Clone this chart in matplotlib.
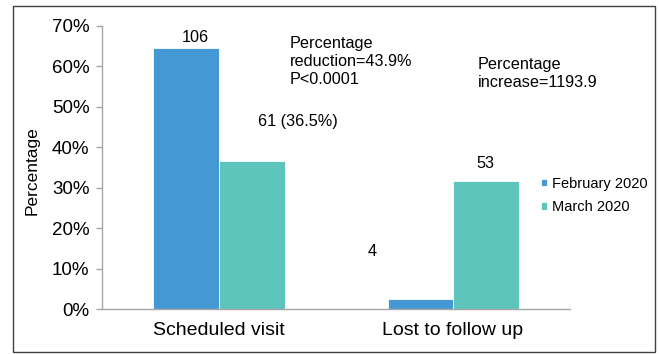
import matplotlib
matplotlib.use("Agg")
import matplotlib.pyplot as plt
import numpy as np
from matplotlib.patches import Rectangle

plt.rcParams['font.family'] = ['Liberation Sans', 'DejaVu Sans']

# visit outcomes, percent of patients per month
categories = ['Scheduled visit', 'Lost to follow up']
feb_pct = [64.6, 2.4]
mar_pct = [36.5, 31.7]
series_names = ['February 2020', 'March 2020']
y_ticks = [0, 10, 20, 30, 40, 50, 60, 70]

blue = '#4499D4'
teal = '#5EC5BC'

fig = plt.figure(figsize=(6.59, 3.54), dpi=100)
ax = fig.add_axes([0.1548, 0.1271, 0.7102, 0.7995])

x = np.arange(len(categories))
w = 0.28
ax.bar(x - w / 2, feb_pct, w, color=blue, edgecolor='white', linewidth=0.6, label=series_names[0])
ax.bar(x + w / 2, mar_pct, w, color=teal, edgecolor='white', linewidth=0.6, label=series_names[1])

ax.set_xlim(-0.5, 1.5)
ax.set_ylim(0, 70)
ax.set_yticks(y_ticks)
ax.set_yticklabels([f'{t}%' for t in y_ticks])
ax.set_xticks(x)
ax.set_xticklabels(categories)

for s in ['top', 'right']:
    ax.spines[s].set_visible(False)
for s in ['left', 'bottom']:
    ax.spines[s].set_color('#A6A6A6')
    ax.spines[s].set_linewidth(1.0)
ax.tick_params(axis='y', length=4, width=1, color='#A6A6A6', pad=5, labelsize=13.5)
ax.tick_params(axis='x', length=0, pad=9, labelsize=14)

# counts and notes
ax.text(-0.103, 67.1, '106', ha='center', va='center', fontsize=11.7)
ax.text(0.338, 46.3, '61 (36.5%)', ha='center', va='center', fontsize=11.7)
ax.text(0.303, 61.1, 'Percentage\nreduction=43.9%\nP<0.0001', ha='left', va='center',
        fontsize=11.7, linespacing=1.25)
ax.text(1.107, 58.3, 'Percentage\nincrease=1193.9', ha='left', va='center',
        fontsize=11.7, linespacing=1.25)
ax.text(1.137, 36.1, '53', ha='center', va='center', fontsize=11.7)
ax.text(0.654, 14.1, '4', ha='center', va='center', fontsize=11.7)

fig.text(32 / 659, 1 - 171 / 354, 'Percentage', rotation=90, ha='center', va='center', fontsize=12.5)

ax.legend(loc='upper left', bbox_to_anchor=(0.821, 0.5014), bbox_transform=fig.transFigure,
          frameon=False, fontsize=10.5, borderpad=0, borderaxespad=0,
          handlelength=0.42, handleheight=0.42, handletextpad=0.35, labelspacing=0.65)

# outer frame
fig.patches.append(Rectangle((13 / 659, 2 / 354), 642 / 659, 346 / 354, transform=fig.transFigure,
                             fill=False, edgecolor='#404040', linewidth=1.0))

fig.savefig('out.png', dpi=100)
